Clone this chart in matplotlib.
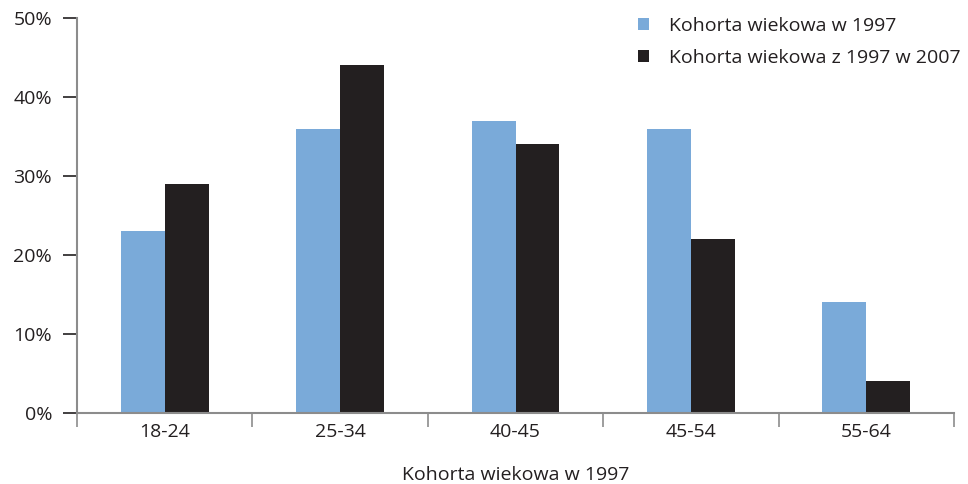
import matplotlib.pyplot as plt
import numpy as np

plt.rcParams['font.family'] = ['Open Sans', 'DejaVu Sans']

groups = ['18-24', '25-34', '40-45', '45-54', '55-64']
cohort_1997 = [23, 36, 37, 36, 14]
cohort_2007 = [29, 44, 34, 22, 4]
series_names = ['Kohorta wiekowa w 1997', 'Kohorta wiekowa z 1997 w 2007']
xlabel = 'Kohorta wiekowa w 1997'

blue = '#7aaad9'
dark = '#231f20'
grey = '#8c8c8c'

fig = plt.figure(figsize=(9.68, 4.84), dpi=100)
ax = fig.add_axes([77 / 968, 1 - 413 / 484, (954 - 77) / 968, (413 - 18) / 484])

x = np.arange(len(groups))
w = 0.25
b1 = ax.bar(x - w / 2, cohort_1997, w, color=blue, label=series_names[0])
b2 = ax.bar(x + w / 2, cohort_2007, w, color=dark, label=series_names[1])

ax.set_xlim(-0.5, len(groups) - 0.5)
ax.set_ylim(0, 50)
ax.set_yticks(range(0, 51, 10))
ax.set_yticklabels([f'{v}%' for v in range(0, 51, 10)])

# category boundaries as major ticks, labels in the middle
ax.set_xticks(np.arange(-0.5, len(groups), 1))
ax.set_xticklabels([])
ax.set_xticks(x, minor=True)
ax.set_xticklabels(groups, minor=True)
ax.tick_params(which='both', labelsize=14, labelcolor=dark)
ax.tick_params(axis='x', which='minor', length=0, pad=7)
ax.tick_params(axis='x', which='major', length=10, width=1.2, color=grey, direction='out')
ax.tick_params(axis='y', length=10, width=1.2, color=dark, pad=8)

for s in ['top', 'right']:
    ax.spines[s].set_visible(False)
for s in ['left', 'bottom']:
    ax.spines[s].set_color(grey)
    ax.spines[s].set_linewidth(1.5)

ax.set_xlabel(xlabel, fontsize=14, color=dark, labelpad=18)

fig.legend(handles=[b1, b2], loc='upper left',
           bbox_to_anchor=(638 / 968, 1 - 17 / 484),
           frameon=False, fontsize=14, handlelength=0.57, handleheight=0.57,
           handletextpad=1.0, labelspacing=0.7, borderpad=0, borderaxespad=0,
           labelcolor=dark)

fig.savefig('out.png', dpi=100)
